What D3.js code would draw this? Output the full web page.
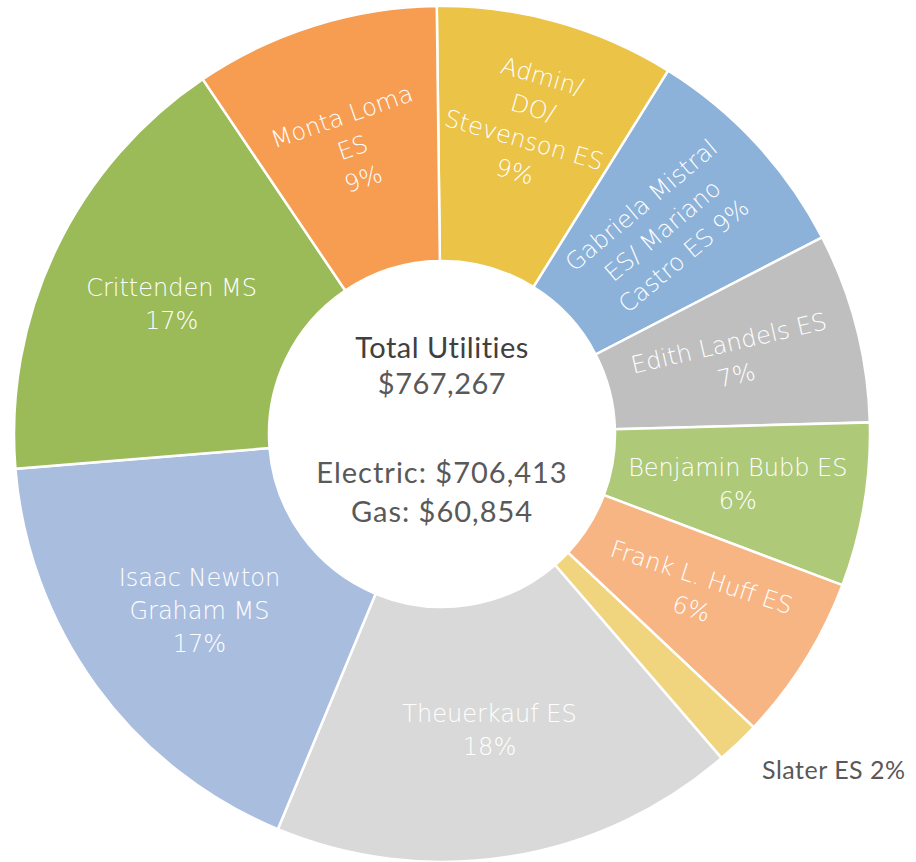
<!DOCTYPE html>
<html>
<title>Total Utilities</title>
<style>
  body {
    margin: 0px;
    background: white;
  }
  .slice-label {
    font-family: "DejaVu Sans", sans-serif;
    font-weight: 200;
    font-size: 24px;
    fill: white;
  }
  .center-text {
    font-family: "Lato", "DejaVu Sans", sans-serif;
    font-size: 29px;
    letter-spacing: 0.5px;
    fill: #595959;
  }
</style>
<script src="https://cdn.jsdelivr.net/npm/d3@7"></script>
<svg></svg>
<script>

// slices clockwise from 12 o'clock (dollars)
const schools = ["Admin/ DO/ Stevenson ES", "Gabriela Mistral ES/ Mariano Castro ES", "Edith Landels ES",
  "Benjamin Bubb ES", "Frank L. Huff ES", "Slater ES", "Theuerkauf ES",
  "Isaac Newton Graham MS", "Crittenden MS", "Monta Loma ES"];
const costs = [69500, 65500, 55000, 47400, 48100, 12700, 135000, 133800, 129300, 70967];
const colors = ["#ebc347", "#8cb2da", "#bfbfbf", "#aeca79", "#f8b584", "#f0d57e",
  "#d9d9d9", "#a9bedf", "#9bbb59", "#f69d51"];
// how each label is broken into lines
const labelLines = [
  ["Admin/", "DO/", "Stevenson ES"],
  ["Gabriela Mistral", "ES/ Mariano", "Castro ES"],
  ["Edith Landels ES"],
  ["Benjamin Bubb ES"],
  ["Frank L. Huff ES"],
  ["Slater ES"],
  ["Theuerkauf ES"],
  ["Isaac Newton", "Graham MS"],
  ["Crittenden MS"],
  ["Monta Loma", "ES"]
];
const pctInline = [false, true, false, false, false, true, false, false, false, false];
const electric = 706413;
const gas = 60854;

const width = 916, height = 862;
const cx = 442, cy = 434;
const outerR = 428, innerR = 173;
const labelRot = [16, -40, -13, 0, 18, 0, 0, 0, 0, -19];
const labelR = [322, 300, 300, 300, 300, 470, 300, 300, 300, 300];

const svg = d3.select("svg")
    .attr("width", width)
    .attr("height", height);

const total = d3.sum(costs);
const data = costs.map((v, i) => ({name: schools[i], value: v, i: i}));

const pie = d3.pie()
    .sort(null)
    .value(d => d.value)
    .startAngle(-0.7 * Math.PI / 180)
    .endAngle(2 * Math.PI - 0.7 * Math.PI / 180);

const arc = d3.arc()
    .innerRadius(innerR)
    .outerRadius(outerR);

const g = svg.append("g")
    .attr("transform", "translate(" + cx + "," + cy + ")");

const arcs = pie(data);

g.selectAll("path")
  .data(arcs)
  .enter().append("path")
    .attr("d", arc)
    .attr("fill", d => colors[d.data.i])
    .attr("stroke", "white")
    .attr("stroke-width", 2.5);

const fmtPct = v => Math.round(v / total * 100) + "%";
const lineH = 33;

arcs.forEach(function(d) {
  const i = d.data.i;
  let lines = labelLines[i].slice();
  const pct = fmtPct(d.value);
  if (pctInline[i]) lines[lines.length - 1] += " " + pct;
  else lines.push(pct);

  const mid = (d.startAngle + d.endAngle) / 2;
  const x = Math.sin(mid) * labelR[i];
  const y = -Math.cos(mid) * labelR[i];

  if (i === 5) {
    // small slice: label sits outside
    g.append("text")
        .attr("class", "center-text")
        .style("font-size", "25px")
        .attr("x", x - 5)
        .attr("y", y + 6)
        .text(lines[0]);
    return;
  }

  const t = g.append("text")
      .attr("class", "slice-label")
      .attr("text-anchor", "middle")
      .attr("transform", "translate(" + x + "," + y + ") rotate(" + labelRot[i] + ")");
  const off = -(lines.length - 1) * lineH / 2;
  lines.forEach(function(s, k) {
    t.append("tspan")
        .attr("x", 0)
        .attr("y", off + k * lineH)
        .attr("dy", "0.35em")
        .text(s);
  });
});

// center text
const fmt = d3.format("$,");
const center = g.append("g");
center.append("text")
    .attr("class", "center-text")
    .attr("text-anchor", "middle")
    .attr("y", -76)
    .style("fill", "#404040")
    .text("Total Utilities");
center.append("text")
    .attr("class", "center-text")
    .attr("text-anchor", "middle")
    .attr("y", -40)
    .text(fmt(total));
center.append("text")
    .attr("class", "center-text")
    .attr("text-anchor", "middle")
    .attr("y", 49)
    .style("letter-spacing", "1px")
    .text("Electric: " + fmt(electric));
center.append("text")
    .attr("class", "center-text")
    .attr("text-anchor", "middle")
    .attr("y", 88)
    .style("letter-spacing", "1px")
    .text("Gas: " + fmt(gas));
</script>
</html>
